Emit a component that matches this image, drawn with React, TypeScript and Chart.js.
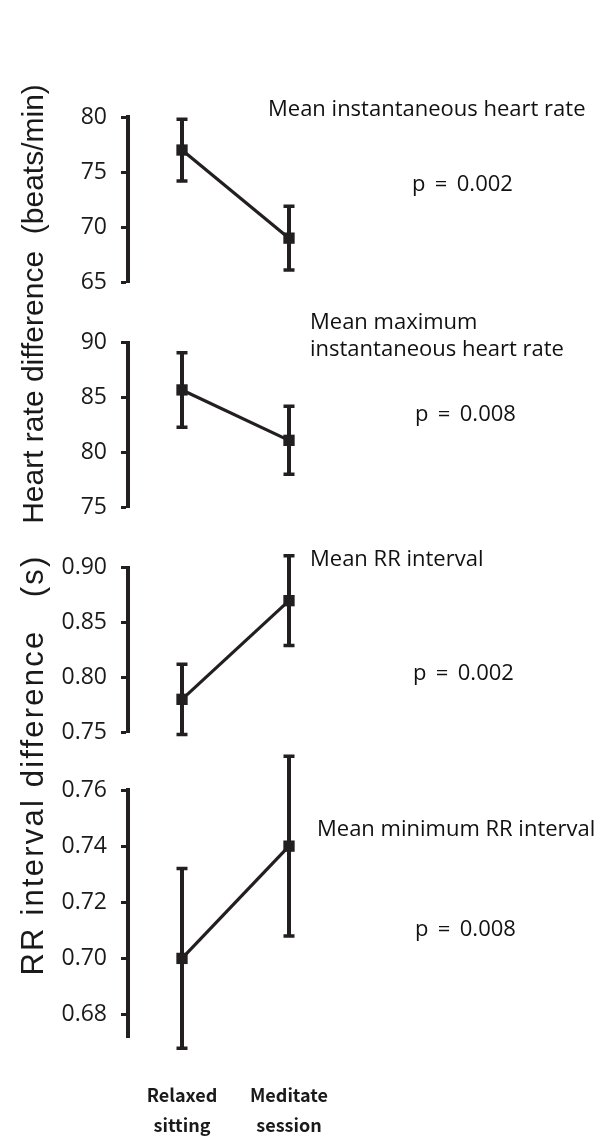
import React, { useEffect, useRef } from 'react';
import { Chart, registerables } from 'chart.js';

Chart.register(...registerables);

// ---------- data ----------
const conditionLabels = [['Relaxed', 'sitting'], ['Meditate', 'session']];
const conditionX = [1, 2];

const hrMean = [77, 69];
const hrErr = [2.8, 2.9];
const hrTicks = [65, 70, 75, 80];

const hrMaxMean = [85.7, 81.1];
const hrMaxErr = [3.4, 3.1];
const hrMaxTicks = [75, 80, 85, 90];

const rrMean = [0.78, 0.87];
const rrErr = [0.032, 0.041];
const rrTicks = [0.75, 0.8, 0.85, 0.9];

const rrMinMean = [0.7, 0.74];
const rrMinErr = [0.032, 0.032];
const rrMinTicks = [0.68, 0.7, 0.72, 0.74, 0.76];

const titleHR = 'Heart rate difference  (beats/min)';
const titleRR = 'RR interval difference   (s)';

const panelTitles = [
  ['Mean instantaneous heart rate'],
  ['Mean maximum', 'instantaneous heart rate'],
  ['Mean RR interval'],
  ['Mean minimum RR interval'],
];
const pValues = ['p \u2009=\u2009 0.002', 'p \u2009=\u2009 0.008', 'p \u2009=\u2009 0.002', 'p \u2009=\u2009 0.008'];

// ---------- layout / style ----------
const INK = '#231f20';
const TICK_FONT = { family: '"Open Sans", sans-serif', size: 23 };

const panels = [
  { mean: hrMean, err: hrErr, ticks: hrTicks, min: 65, max: 80, dec: 0, top: 80, height: 230, padTop: 37, padBottom: 26, showX: false },
  { mean: hrMaxMean, err: hrMaxErr, ticks: hrMaxTicks, min: 75, max: 90, dec: 0, top: 315, height: 220, padTop: 26, padBottom: 25, showX: false },
  { mean: rrMean, err: rrErr, ticks: rrTicks, min: 0.75, max: 0.9, dec: 2, top: 540, height: 220, padTop: 25, padBottom: 27, showX: false },
  { mean: rrMinMean, err: rrMinErr, ticks: rrMinTicks, min: 0.672, max: 0.76, dec: 2, top: 745, height: 394, padTop: 45, padBottom: 0, showX: true },
];

const annotations = [
  { lines: panelTitles[0], left: 268, cy: 107, p: pValues[0], pLeft: 412, pCy: 182 },
  { lines: panelTitles[1], left: 310, cy: 320, p: pValues[1], pLeft: 415, pCy: 412 },
  { lines: panelTitles[2], left: 310, cy: 557, p: pValues[2], pLeft: 413, pCy: 671 },
  { lines: panelTitles[3], left: 317, cy: 827, p: pValues[3], pLeft: 415, pCy: 927 },
];

const errorBarPlugin = {
  id: 'errorBars',
  beforeDatasetsDraw(chart: any, _args: any, opts: any) {
    const errs: number[] = opts.errors || [];
    const ctx = chart.ctx;
    const xs = chart.scales.x;
    const ys = chart.scales.y;
    const data = chart.data.datasets[0].data as { x: number; y: number }[];
    ctx.save();
    ctx.strokeStyle = INK;
    ctx.lineCap = 'butt';
    data.forEach((p, i) => {
      const x = xs.getPixelForValue(p.x);
      const yTop = ys.getPixelForValue(p.y + errs[i]);
      const yBot = ys.getPixelForValue(p.y - errs[i]);
      ctx.lineWidth = 4;
      ctx.beginPath();
      ctx.moveTo(x, yTop);
      ctx.lineTo(x, yBot);
      ctx.stroke();
      ctx.lineWidth = 3.5;
      ctx.beginPath();
      ctx.moveTo(x - 5.5, yTop);
      ctx.lineTo(x + 5.5, yTop);
      ctx.moveTo(x - 5.5, yBot);
      ctx.lineTo(x + 5.5, yBot);
      ctx.stroke();
    });
    ctx.restore();
  },
};

function Panel({ cfg }: { cfg: any }) {
  const ref = useRef<HTMLCanvasElement>(null);
  useEffect(() => {
    if (!ref.current) return;
    const points = cfg.mean.map((v: number, i: number) => ({ x: conditionX[i], y: v }));
    const chart = new Chart(ref.current, {
      type: 'line',
      data: {
        datasets: [
          {
            data: points,
            borderColor: INK,
            backgroundColor: INK,
            borderWidth: 3.2,
            pointStyle: 'rect',
            pointRadius: 8,
            pointBorderWidth: 0,
            pointBackgroundColor: INK,
            clip: false as any,
          },
        ],
      },
      options: {
        animation: false,
        responsive: false,
        maintainAspectRatio: false,
        layout: { padding: { top: cfg.padTop, bottom: cfg.padBottom, left: 0, right: 103 } },
        plugins: {
          legend: { display: false },
          tooltip: { enabled: false },
          errorBars: { errors: cfg.err },
        } as any,
        scales: {
          x: {
            type: 'linear',
            min: 0.4953,
            max: 4,
            display: cfg.showX,
            position: 'bottom',
            grid: { display: false, drawTicks: false },
            border: { display: false },
            afterFit: (s: any) => {
              s.height = cfg.showX ? 102 : 0;
            },
            afterBuildTicks: (s: any) => {
              s.ticks = conditionX.map((v) => ({ value: v }));
            },
            ticks: {
              autoSkip: false,
              maxRotation: 0,
              minRotation: 0,
              padding: 43,
              color: '#1a1a1a',
              font: { family: '"Noto Sans CJK JP", sans-serif', size: 18, weight: 'bold', lineHeight: 1.67 },
              callback: (v: any) => {
                const idx = conditionX.indexOf(Number(v));
                return idx >= 0 ? conditionLabels[idx] : '';
              },
            },
          },
          y: {
            type: 'linear',
            min: cfg.min,
            max: cfg.max,
            afterFit: (s: any) => {
              s.width = 128;
            },
            afterBuildTicks: (s: any) => {
              s.ticks = cfg.ticks.map((v: number) => ({ value: v }));
            },
            grid: {
              drawOnChartArea: false,
              drawTicks: true,
              tickLength: 7,
              tickWidth: 3,
              color: INK,
            },
            border: { display: true, color: INK, width: 4 },
            ticks: {
              padding: 14,
              color: '#1a1a1a',
              font: TICK_FONT,
              callback: (v: any) => Number(v).toFixed(cfg.dec),
            },
          },
        },
      },
      plugins: [errorBarPlugin],
    });
    return () => chart.destroy();
  }, [cfg]);
  return (
    <canvas
      ref={ref}
      width={606}
      height={cfg.height}
      style={{ position: 'absolute', left: 0, top: cfg.top, width: 606, height: cfg.height, display: 'block' }}
    />
  );
}

const annFont: React.CSSProperties = {
  fontFamily: '"Open Sans", sans-serif',
  fontSize: 22,
  lineHeight: '26px',
  color: '#111',
  whiteSpace: 'pre',
  position: 'absolute',
};

const titleStyle = (cx: number, cy: number, size: number, spacing: number): React.CSSProperties => ({
  position: 'absolute',
  left: cx,
  top: cy,
  transform: 'translate(-50%, -50%) rotate(-90deg)',
  fontFamily: '"Liberation Sans", Arial, sans-serif',
  fontSize: size,
  letterSpacing: spacing,
  lineHeight: '34px',
  color: '#1a1a1a',
  whiteSpace: 'pre',
});

export default function App() {
  return (
    <div style={{ position: 'fixed', left: 0, top: 0, width: 606, height: 1139, background: '#fff', overflow: 'hidden' }}>
      {panels.map((p, i) => (
        <Panel key={i} cfg={p} />
      ))}
      <div style={titleStyle(33, 304, 30, 0)}>{titleHR}</div>
      <div style={titleStyle(33, 765, 31, 2.2)}>{titleRR}</div>
      {annotations.map((a, i) => (
        <React.Fragment key={i}>
          {a.lines.map((ln, j) => (
            <div key={j} style={{ ...annFont, left: a.left, top: a.cy - 13 + j * 27 }}>
              {ln}
            </div>
          ))}
          <div style={{ ...annFont, left: a.pLeft, top: a.pCy - 13 }}>{a.p}</div>
        </React.Fragment>
      ))}
    </div>
  );
}
